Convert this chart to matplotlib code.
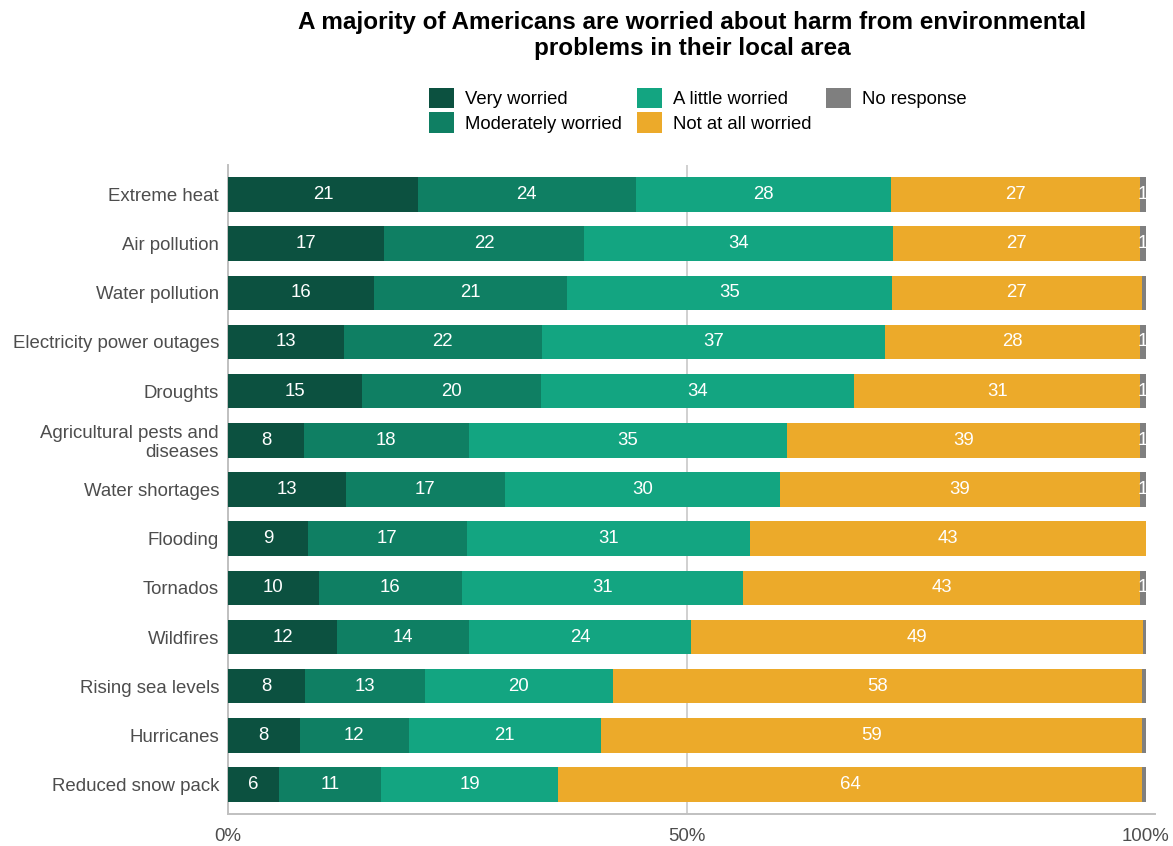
import numpy as np
import matplotlib
matplotlib.use('Agg')
import matplotlib.pyplot as plt

plt.rcParams['font.family'] = ['Liberation Sans', 'DejaVu Sans']

categories = ['Extreme heat', 'Air pollution', 'Water pollution',
              'Electricity power outages', 'Droughts',
              'Agricultural pests and\ndiseases', 'Water shortages', 'Flooding',
              'Tornados', 'Wildfires', 'Rising sea levels', 'Hurricanes',
              'Reduced snow pack']

series_names = ['Very worried', 'Moderately worried', 'A little worried',
                'Not at all worried', 'No response']

very = [20.7, 17.0, 15.9, 12.6, 14.6, 8.3, 12.8, 8.7, 9.9, 11.9, 8.4, 7.8, 5.6]
moderately = [23.7, 21.8, 21.0, 21.6, 19.5, 17.9, 17.4, 17.3, 15.6, 14.4, 13.1, 11.9, 11.1]
little = [27.8, 33.6, 35.4, 37.4, 34.1, 34.7, 29.9, 30.9, 30.6, 24.1, 20.4, 20.9, 19.3]
not_at_all = [27.2, 27.0, 27.3, 27.8, 31.2, 38.5, 39.3, 43.1, 43.3, 49.3, 57.7, 59.0, 63.6]
no_response = [0.6, 0.6, 0.4, 0.6, 0.6, 0.6, 0.6, 0.0, 0.6, 0.3, 0.4, 0.4, 0.4]

colors = ['#0C5140', '#0F7F63', '#13A581', '#ECAA2A', '#7F7F7F']

fig = plt.figure(figsize=(11.73, 8.46), dpi=100)
ax = fig.add_axes([0.1944, 0.0378, 0.7903, 0.7672])

y = np.arange(len(categories))
left = np.zeros(len(categories))
for name, vals, col in zip(series_names,
                           [very, moderately, little, not_at_all, no_response],
                           colors):
    vals = np.array(vals)
    bars = ax.barh(y, vals, left=left, height=0.7, color=col, label=name,
                   edgecolor='none', zorder=3)
    for b, v, l in zip(bars, vals, left):
        lab = int(v + 0.5)
        if lab >= 1:
            ax.text(l + v / 2, b.get_y() + b.get_height() / 2, str(lab),
                    ha='center', va='center', color='white', fontsize=13.4,
                    zorder=4)
    left = left + vals

ax.axvline(50, color='#C8C8C8', linewidth=1.2, zorder=0)
ax.set_xlim(0, 101)
ax.set_ylim(12.6, -0.6)
ax.set_yticks(y)
ax.set_yticklabels(categories, fontsize=13.4, color='#4D4D4D', linespacing=1.1)
ax.set_xticks([0, 50, 100])
ax.set_xticklabels(['0%', '50%', '100%'], fontsize=13.4, color='#4D4D4D')
ax.tick_params(axis='y', length=0, pad=6.5)
ax.tick_params(axis='x', length=0, pad=10)
for s in ['top', 'right']:
    ax.spines[s].set_visible(False)
for s in ['left', 'bottom']:
    ax.spines[s].set_color('#C0C0C0')
    ax.spines[s].set_linewidth(1.4)

fig.text(0.59, 0.958, 'A majority of Americans are worried about harm from environmental\nproblems in their local area',
         ha='center', va='center', fontsize=17.5, fontweight='bold',
         linespacing=1.12)

fig.legend(loc='upper center', bbox_to_anchor=(0.595, 0.905), ncol=3,
           frameon=False, fontsize=13.3, handlelength=1.35, handleheight=1.35,
           handletextpad=0.6, labelspacing=0.2, columnspacing=0.8,
           borderaxespad=0)

fig.savefig('out.png', dpi=100)
